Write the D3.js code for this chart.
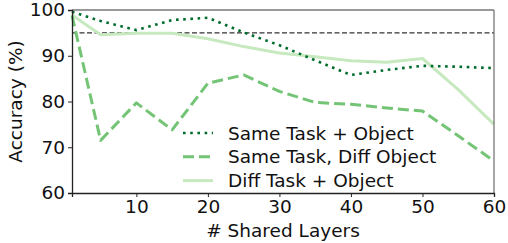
<!DOCTYPE html>
<html lang="en">
<head>
<meta charset="UTF-8" />
<title>Accuracy vs shared layers</title>
<script src="https://cdn.jsdelivr.net/npm/d3@7"></script>
<style>
body{margin:0;background:#fff;font-family:"DejaVu Sans",sans-serif}
svg{display:block}
</style>
</head>
<body>
<svg id="chart" width="508" height="243"></svg>
<script>
/* ===== data ===== */
const layers=[1,5,10,15,20,25,30,35,40,45,50,55,60];
const sameTaskObj =[99.6,97.6,95.6,97.8,98.3,95.1,92.3,89.0,85.8,86.9,87.8,87.6,87.3];
const sameTaskDiff=[98.8,71.5,79.7,73.8,84.0,85.8,82.2,79.8,79.4,78.6,77.9,72.5,67.0];
const diffTaskObj =[98.9,94.6,94.9,94.9,93.7,92.0,90.6,89.8,88.9,88.6,89.4,82.6,75.0];
const xTicks=[10,20,30,40,50,60];
const yTicks=[60,70,80,90,100];
const refLine=95;
const seriesNames=['Same Task + Object','Same Task, Diff Object','Diff Task + Object'];

/* ===== chart ===== */
const FS=18.5;
const svg=d3.select('#chart'),M={l:72,r:14,t:10,b:50},
      W=+svg.attr('width'),H=+svg.attr('height'),w=W-M.l-M.r,h=H-M.t-M.b;
const g=svg.append('g').attr('transform',`translate(${M.l},${M.t})`);
const x=d3.scaleLinear().domain([1,60]).range([0,w]);
const y=d3.scaleLinear().domain([60,100]).range([h,0]);

const styles=[
  {data:sameTaskObj ,color:'#006d2c',width:2.6,dash:'2.6,4.6'},
  {data:sameTaskDiff,color:'#74c476',width:3,dash:'11,5'},
  {data:diffTaskObj ,color:'#c7e9c0',width:3,dash:null}
];

// reference line
g.append('line').attr('x1',0).attr('x2',w).attr('y1',y(refLine)).attr('y2',y(refLine))
  .attr('stroke','#333').attr('stroke-width',1.2).attr('stroke-dasharray','5,2.5');

const line=d3.line().x((d,i)=>x(layers[i])).y(d=>y(d));
// draw light first so darker ones stay on top
[2,1,0].forEach(k=>{
  const s=styles[k];
  g.append('path').datum(s.data).attr('fill','none').attr('stroke',s.color)
    .attr('stroke-width',s.width).attr('stroke-dasharray',s.dash)
    .attr('stroke-linejoin','round').attr('d',line);
});

// frame
g.append('line').attr('x1',0).attr('x2',w).attr('y1',0).attr('y2',0).attr('stroke','#777').attr('stroke-width',1.3);
g.append('line').attr('x1',w).attr('x2',w).attr('y1',0).attr('y2',h).attr('stroke','#777').attr('stroke-width',1.3);

const xa=g.append('g').attr('transform',`translate(0,${h})`)
  .call(d3.axisBottom(x).tickValues(xTicks).tickSize(4).tickPadding(3));
const ya=g.append('g').call(d3.axisLeft(y).tickValues(yTicks).tickSize(4).tickPadding(3));
[xa,ya].forEach(a=>{
  a.select('.domain').attr('stroke','#222').attr('stroke-width',1.3);
  a.selectAll('.tick line').attr('stroke','#222').attr('stroke-width',1);
  a.selectAll('.tick text').attr('font-family','DejaVu Sans').attr('font-size',FS).attr('fill','#111');
});

svg.append('text').attr('x',M.l+w/2).attr('y',237).attr('text-anchor','middle')
  .attr('font-size',FS).attr('fill','#111').text('# Shared Layers');
svg.append('text').attr('transform',`translate(22,${M.t+h/2}) rotate(-90)`).attr('text-anchor','middle')
  .attr('font-size',FS).attr('fill','#111').text('Accuracy (%)');

// legend
const lg=svg.append('g').attr('transform','translate(183,133)');
styles.forEach((s,i)=>{
  const r=lg.append('g').attr('transform',`translate(0,${i*23.8})`);
  r.append('line').attr('x1',0).attr('x2',30).attr('stroke',s.color)
    .attr('stroke-width',s.width).attr('stroke-dasharray',s.dash);
  r.append('text').attr('x',45).attr('y',6.5).attr('font-size',FS).attr('fill','#111').text(seriesNames[i]);
});
</script>
</body>
</html>
